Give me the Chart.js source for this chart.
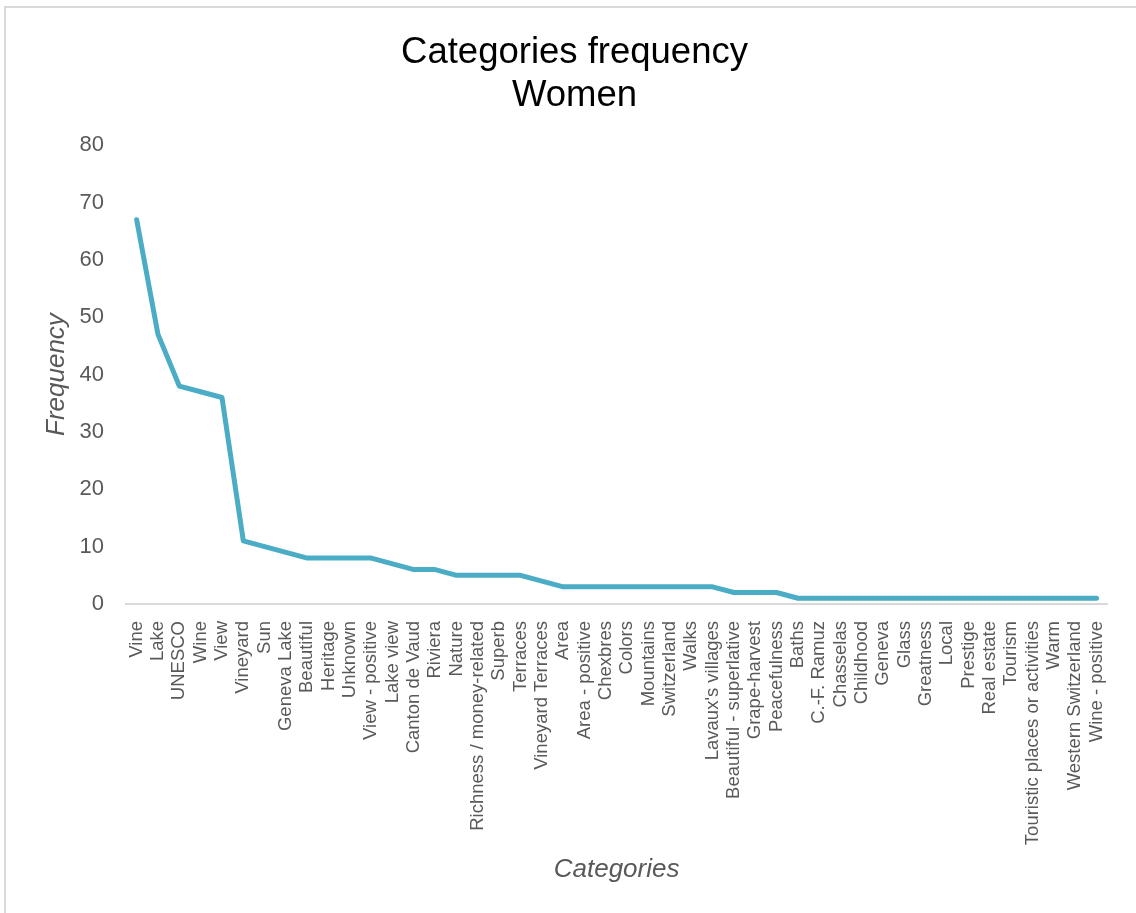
<!DOCTYPE html>
<html>
<head>
<meta charset="utf-8">
<script src="https://cdn.jsdelivr.net/npm/chart.js@4/dist/chart.umd.min.js"></script>
<style>
  html, body { margin: 0; padding: 0; background: #fff; overflow: hidden; }
  #frame { position: absolute; left: 4px; top: 6px; width: 1200px; height: 1000px; border: 2px solid #d9d9d9; box-sizing: border-box; }
  #wrap { position: absolute; left: 0; top: 0; width: 1136px; height: 913px; }
</style>
</head>
<body>
<div id="frame"></div>
<div id="wrap"><canvas id="c" width="1136" height="913"></canvas></div>
<script>
const titleLines = ["Categories frequency", "Women"];
const xAxisTitle = "Categories";
const yAxisTitle = "Frequency";
const categories = [
  "Vine", "Lake", "UNESCO", "Wine", "View", "Vineyard", "Sun", "Geneva Lake",
  "Beautiful", "Heritage", "Unknown", "View - positive", "Lake view", "Canton de Vaud",
  "Riviera", "Nature", "Richness / money-related", "Superb", "Terraces", "Vineyard Terraces",
  "Area", "Area - positive", "Chexbres", "Colors", "Mountains", "Switzerland", "Walks",
  "Lavaux's villages", "Beautiful - superlative", "Grape-harvest", "Peacefulness", "Baths",
  "C.-F. Ramuz", "Chasselas", "Childhood", "Geneva", "Glass", "Greatness", "Local",
  "Prestige", "Real estate", "Tourism", "Touristic places or activities", "Warm",
  "Western Switzerland", "Wine - positive"
];
const frequency = [
  67, 47, 38, 37, 36, 11, 10, 9,
  8, 8, 8, 8, 7, 6,
  6, 5, 5, 5, 5, 4,
  3, 3, 3, 3, 3, 3, 3,
  3, 2, 2, 2, 1,
  1, 1, 1, 1, 1, 1, 1,
  1, 1, 1, 1, 1,
  1, 1
];
const yTicks = [0, 10, 20, 30, 40, 50, 60, 70, 80];

const FONT = "'Liberation Sans', Arial, sans-serif";
const GRAY = "#595959";

new Chart(document.getElementById('c'), {
  type: 'line',
  data: {
    labels: categories,
    datasets: [{
      data: frequency,
      borderColor: '#4BACC6',
      backgroundColor: '#4BACC6',
      borderWidth: 5,
      pointRadius: 0,
      tension: 0,
      borderCapStyle: 'round',
      borderJoinStyle: 'round',
      fill: false
    }]
  },
  options: {
    responsive: false,
    animation: false,
    layout: { padding: { top: 10, left: 38, right: 25, bottom: 23 } },
    plugins: {
      legend: { display: false },
      tooltip: { enabled: false },
      title: {
        display: true,
        text: titleLines,
        color: '#000',
        font: { family: FONT, size: 36.5, weight: 'normal', lineHeight: 1.18 },
        padding: { top: 21.5, bottom: 27.5 }
      }
    },
    scales: {
      x: {
        type: 'category',
        offset: true,
        grid: { display: false, drawTicks: false },
        border: { display: true, color: '#d9d9d9', width: 2 },
        ticks: {
          autoSkip: false,
          maxRotation: 90,
          minRotation: 90,
          padding: 17,
          color: GRAY,
          font: { family: FONT, size: 18.5 }
        },
        title: {
          display: true,
          text: xAxisTitle,
          color: GRAY,
          font: { family: FONT, size: 26, style: 'italic' },
          padding: { top: 4, bottom: 5 }
        },
        afterFit: (s) => { s.height = 286; }
      },
      y: {
        min: 0,
        max: 80,
        grid: { display: false, drawTicks: false },
        border: { display: false },
        afterBuildTicks: (s) => { s.ticks = yTicks.map(v => ({ value: v })); },
        ticks: {
          padding: 22,
          color: GRAY,
          font: { family: FONT, size: 22 }
        },
        title: {
          display: true,
          text: yAxisTitle,
          color: GRAY,
          font: { family: FONT, size: 26, style: 'italic' },
          padding: { top: 3 }
        },
        afterFit: (s) => { s.width = 88; }
      }
    }
  }
});
</script>
</body>
</html>
